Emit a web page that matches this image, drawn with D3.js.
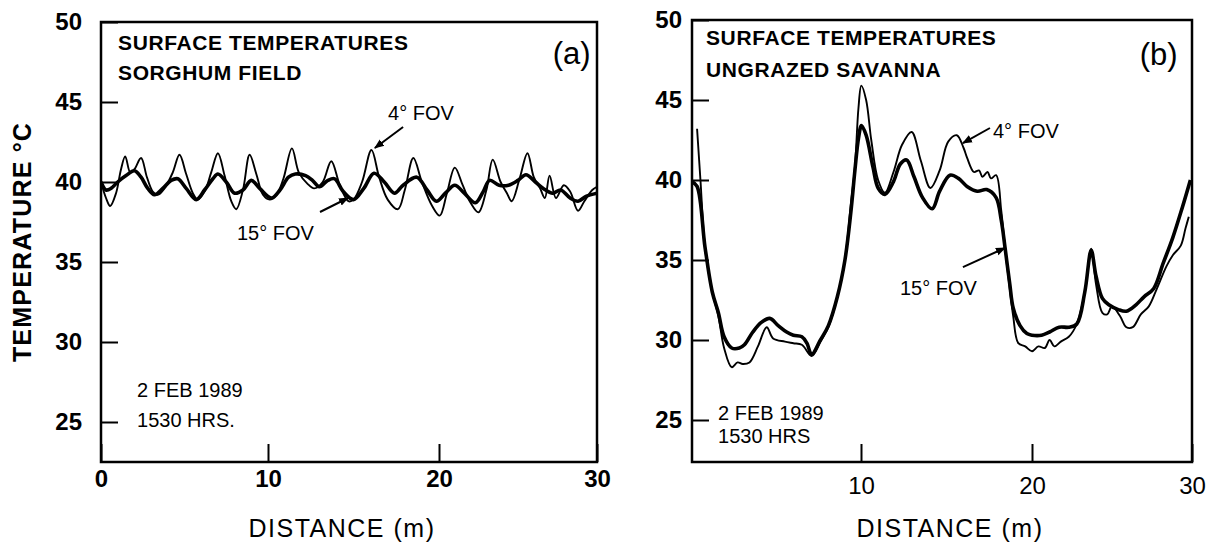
<!DOCTYPE html>
<html><head><meta charset="utf-8">
<script src="https://cdn.jsdelivr.net/npm/d3@7"></script>
<style>
html,body{margin:0;padding:0;background:#fff;}
svg{display:block;font-family:"Liberation Sans",Arial,sans-serif;}
</style></head>
<body>
<svg id="chart" width="1218" height="546"></svg>
<script>
// ---------- DATA ----------
const xTicksA = [0, 10, 20, 30];
const xTicksB = [10, 20, 30];
const yTicks = [25, 30, 35, 40, 45, 50];

// Panel (a): sorghum field, [distance m, temperature °C]
const sorghum4 = [[0,40.0],[0.3,39.0],[0.55,38.5],[0.9,39.3],[1.2,40.8],[1.45,41.6],[1.75,40.6],[2.0,40.8],[2.4,41.5],[2.75,40.3],[3.1,39.4],[3.4,39.2],[3.8,39.6],[4.3,40.6],[4.7,41.7],[5.1,40.5],[5.5,39.3],[5.8,38.9],[6.2,39.4],[6.6,40.6],[7.0,41.8],[7.4,40.4],[7.8,38.8],[8.1,38.3],[8.5,39.5],[8.9,41.7],[9.3,40.5],[9.7,39.2],[10.1,38.9],[10.5,39.2],[10.9,40.2],[11.4,42.1],[11.8,40.6],[12.3,39.9],[12.7,39.6],[13.2,40.0],[13.7,41.3],[14.2,39.8],[14.7,38.8],[15.0,38.9],[15.5,40.0],[16.05,42.0],[16.5,40.3],[17.0,38.9],[17.6,38.3],[18.0,39.5],[18.5,41.5],[19.0,40.0],[19.6,38.5],[20.05,37.9],[20.5,39.3],[21.0,40.9],[21.5,39.8],[22.0,38.7],[22.5,38.1],[23.0,39.5],[23.4,41.4],[23.9,40.0],[24.3,39.3],[24.6,38.8],[25.1,40.2],[25.6,41.8],[26.0,40.3],[26.4,39.6],[26.7,39.0],[27.0,40.4],[27.4,39.0],[27.9,39.8],[28.3,39.4],[28.8,38.2],[29.2,38.8],[29.7,39.5],[30.0,39.7]];
const sorghum15 = [[0,40.0],[0.3,39.5],[0.6,39.6],[1.0,40.0],[1.5,40.4],[2.0,40.7],[2.4,40.3],[2.8,39.6],[3.2,39.2],[3.7,39.6],[4.2,40.1],[4.6,40.2],[5.1,39.6],[5.7,38.9],[6.2,39.5],[6.7,40.2],[7.0,40.5],[7.5,40.0],[8.0,39.3],[8.5,39.5],[9.0,40.1],[9.5,39.6],[10.2,39.0],[10.7,39.5],[11.2,40.3],[11.6,40.5],[12.2,40.4],[12.6,40.1],[13.0,39.7],[13.5,40.1],[13.9,40.2],[14.4,39.4],[15.0,38.9],[15.6,39.6],[16.2,40.55],[16.8,40.0],[17.4,39.3],[17.9,39.8],[18.7,40.3],[19.3,39.5],[19.85,38.8],[20.4,39.3],[21.0,39.8],[21.6,39.3],[22.3,38.7],[22.8,39.4],[23.2,40.1],[23.8,39.8],[24.4,39.8],[25.0,40.1],[25.5,40.45],[26.1,40.0],[26.6,39.6],[27.2,39.3],[27.7,39.5],[28.3,39.0],[28.8,38.8],[29.3,39.1],[30.0,39.3]];

// Panel (b): ungrazed savanna
const savanna4 = [[0.3,43.2],[0.5,40.0],[0.77,35.8],[1.2,33.0],[1.56,31.5],[1.9,29.5],[2.35,28.3],[2.7,28.6],[3.0,28.5],[3.4,28.6],[3.9,29.6],[4.42,30.8],[4.8,30.1],[5.5,29.9],[6.0,29.8],[6.5,29.7],[7.08,29.0],[7.6,29.9],[8.07,30.8],[8.6,32.7],[9.05,35.0],[9.4,38.5],[9.64,40.8],[9.85,44.5],[10.02,45.9],[10.3,45.0],[10.6,42.5],[11.0,40.0],[11.4,39.2],[11.9,40.5],[12.4,42.2],[12.96,43.0],[13.5,41.2],[14.06,39.5],[14.6,40.6],[15.1,42.4],[15.6,42.8],[16.0,42.0],[16.2,41.4],[16.6,40.5],[16.9,40.6],[17.1,40.2],[17.4,40.5],[17.6,40.1],[17.9,40.3],[18.2,38.1],[18.42,35.8],[18.7,33.2],[18.9,31.5],[19.2,29.8],[19.6,29.6],[20.0,29.3],[20.4,29.6],[20.8,29.5],[21.1,30.0],[21.4,29.6],[21.8,29.9],[22.3,30.2],[22.8,31.0],[23.3,33.0],[23.7,35.7],[24.0,33.5],[24.4,31.7],[24.7,31.6],[25.0,32.1],[25.5,31.5],[25.9,30.8],[26.3,30.8],[26.8,31.6],[27.3,32.1],[27.8,33.2],[28.4,34.6],[28.8,35.3],[29.3,35.9],[29.6,37.0],[29.8,37.7]];
const savanna15 = [[0,39.9],[0.3,39.6],[0.77,35.8],[1.2,33.0],[1.56,31.7],[1.9,30.2],[2.35,29.5],[2.8,29.5],[3.1,29.7],[3.6,30.5],[4.1,31.1],[4.6,31.35],[5.1,30.9],[5.6,30.5],[6.0,30.3],[6.5,30.2],[6.8,29.8],[7.08,29.1],[7.6,30.0],[8.07,30.9],[8.6,32.7],[9.05,35.0],[9.4,38.0],[9.64,40.6],[9.85,42.6],[10.03,43.4],[10.3,42.8],[10.7,40.8],[11.0,39.5],[11.4,39.1],[11.9,39.9],[12.3,41.0],[12.67,41.25],[13.1,40.2],[13.6,38.9],[14.16,38.2],[14.6,39.3],[15.2,40.3],[15.7,40.1],[16.2,39.6],[16.8,39.3],[17.35,39.4],[17.9,38.9],[18.2,37.5],[18.42,35.8],[18.7,33.5],[18.9,32.0],[19.3,30.9],[19.7,30.4],[20.0,30.3],[20.6,30.3],[21.1,30.5],[21.7,30.8],[22.3,30.8],[22.8,31.0],[23.3,33.0],[23.7,35.6],[24.0,34.0],[24.4,32.6],[24.8,32.2],[25.4,31.9],[25.9,31.8],[26.5,32.2],[27.0,32.7],[27.6,33.2],[28.2,34.8],[28.8,36.4],[29.4,38.3],[29.9,40.0]];

// Texts
const titleA = ["SURFACE TEMPERATURES", "SORGHUM FIELD"];
const titleB = ["SURFACE TEMPERATURES", "UNGRAZED SAVANNA"];
const dateLines = ["2 FEB 1989", "1530 HRS."];
const dateLinesB = ["2 FEB 1989", "1530 HRS"];

// ---------- DRAW ----------
const svg = d3.select("#chart");
const defs = svg.append("defs");
defs.append("marker").attr("id","arr").attr("viewBox","0 0 10 10")
  .attr("refX",9).attr("refY",5).attr("markerWidth",5).attr("markerHeight",5)
  .attr("orient","auto").append("path").attr("d","M0,1 L10,5 L0,9 Z").attr("fill","#000");

function panel(cfg){
  const x = d3.scaleLinear().domain([0,10,20,30]).range(cfg.xr);
  const y = d3.scaleLinear().domain(cfg.yd).range([462, cfg.top]);
  const g = svg.append("g");
  const id = "clip"+cfg.key;
  defs.append("clipPath").attr("id",id).append("rect")
    .attr("x",x(0)).attr("y",y(50)).attr("width",x(30)-x(0)).attr("height",y(cfg.yd[0])-y(50));

  // y axis
  const ya = g.append("g").attr("transform",`translate(${x(0)},0)`)
    .call(d3.axisLeft(y).tickValues(yTicks).tickSizeInner(-17).tickSizeOuter(0).tickPadding(cfg.ypad).tickFormat(d3.format("d")));
  ya.select(".domain").remove();
  ya.selectAll("line").attr("stroke","#000").attr("stroke-width",2);
  ya.selectAll("text").attr("font-size",24).attr("font-weight","bold").attr("fill","#000")
    .attr("font-family","'Liberation Sans',Arial,sans-serif");

  // x axis
  const xa = g.append("g").attr("transform",`translate(0,${y(cfg.yd[0])})`)
    .call(d3.axisBottom(x).tickValues(cfg.xt).tickSizeInner(-18).tickSizeOuter(0).tickPadding(cfg.xpad).tickFormat(d3.format("d")));
  xa.select(".domain").remove();
  xa.selectAll("line").attr("stroke","#000").attr("stroke-width",2);
  xa.selectAll("text").attr("font-size",24).attr("font-weight",cfg.xbold?"bold":"normal").attr("fill","#000")
    .attr("font-family","'Liberation Sans',Arial,sans-serif");

  // frame
  g.append("rect").attr("x",x(0)).attr("y",y(50)).attr("width",x(30)-x(0)).attr("height",y(cfg.yd[0])-y(50))
    .attr("fill","none").attr("stroke","#000").attr("stroke-width",2.5);

  // lines
  const line = d3.line().x(d=>x(d[0])).y(d=>y(d[1])).curve(d3.curveCatmullRom.alpha(0.5));
  const lg = g.append("g").attr("clip-path",`url(#${id})`);
  lg.append("path").datum(cfg.s15).attr("d",line).attr("fill","none").attr("stroke","#000").attr("stroke-width",3.6).attr("stroke-linejoin","round");
  lg.append("path").datum(cfg.s4).attr("d",line).attr("fill","none").attr("stroke","#000").attr("stroke-width",1.9).attr("stroke-linejoin","round");

  // titles
  cfg.title.forEach((t,i)=>{
    g.append("text").attr("x",x(cfg.titlePos[0])).attr("y",y(cfg.titlePos[1][i]))
      .attr("font-size",21).attr("font-weight","bold").attr("letter-spacing",0.6).text(t);
  });
  g.append("text").attr("x",x(cfg.letterPos[0])).attr("y",y(cfg.letterPos[1]))
    .attr("text-anchor","end").attr("font-size",31).text(cfg.letter);

  // annotations
  cfg.ann.forEach(a=>{
    g.append("text").attr("x",x(a.t[0])).attr("y",y(a.t[1])).attr("font-size",20).text(a.s);
    g.append("line").attr("x1",x(a.a[0])).attr("y1",y(a.a[1])).attr("x2",x(a.a[2])).attr("y2",y(a.a[3]))
      .attr("stroke","#000").attr("stroke-width",2).attr("marker-end","url(#arr)");
  });
  cfg.dates.forEach((t,i)=>{
    g.append("text").attr("x",x(cfg.datePos[0])).attr("y",y(cfg.datePos[1][i])).attr("font-size",20).text(t);
  });

  // x title
  g.append("text").attr("x",cfg.xtitleX).attr("y",537).attr("text-anchor","middle")
    .attr("font-size",25).attr("letter-spacing",1.5).text("DISTANCE (m)");
}

panel({key:"a", xr:[101,268,439,597], yd:[22.5,50], top:22, ypad:19, xpad:8, xbold:true, xt:xTicksA,
  s4:sorghum4, s15:sorghum15, title:titleA, titlePos:[1.02,[48.25,46.4]], letter:"(a)", letterPos:[29.6,47.4],
  ann:[{s:"4° FOV", t:[17.02,43.875], a:[17.9,43.44,16.25,42.125]},
       {s:"15° FOV", t:[8.14,36.375], a:[13.04,38.125,14.68,39.0]}],
  dates:dateLines, datePos:[2.16,[26.56,24.69]], xtitleX:342});

panel({key:"b", xr:[692,861,1032,1192], yd:[22.375,50], top:20, ypad:10, xpad:15, xbold:false, xt:xTicksB,
  s4:savanna4, s15:savanna15, title:titleB, titlePos:[0.83,[48.44,46.44]], letter:"(b)", letterPos:[29.1,47.2],
  ann:[{s:"4° FOV", t:[17.72,42.625], a:[17.54,43.25,15.96,42.31]},
       {s:"15° FOV", t:[12.28,32.81], a:[15.96,34.56,18.42,35.75]}],
  dates:dateLinesB, datePos:[1.54,[25.0,23.56]], xtitleX:950});

// y title
svg.append("text").attr("transform","translate(22,242) rotate(-90)").attr("text-anchor","middle")
  .attr("dominant-baseline","central").attr("font-size",25).attr("font-weight","bold").attr("letter-spacing",1.2)
  .text("TEMPERATURE °C");
</script>
</body></html>
